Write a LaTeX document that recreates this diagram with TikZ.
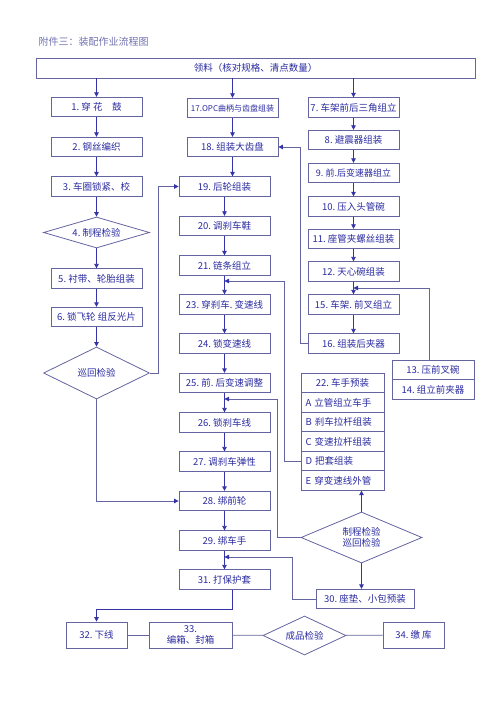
\documentclass[tikz,border=0pt]{standalone}
\usepackage{fontspec}
\newfontfamily\cjk{Noto Sans CJK SC}
\usetikzlibrary{arrows.meta,shapes.geometric}
\definecolor{boxline}{HTML}{6464A0}
\definecolor{flowtext}{HTML}{2A2AA0}
\definecolor{flowarrow}{HTML}{3434A8}
\definecolor{titletext}{HTML}{7070B0}

\begin{document}
\begin{tikzpicture}[x=1pt,y=-1pt,
  proc/.style={draw=boxline,line width=0.8pt,minimum width=91pt,minimum height=19.5pt,inner sep=0pt,text=flowtext,font=\cjk\fontsize{9.5}{11}\selectfont},
  row/.style={proc,minimum width=83pt,text width=74pt,align=left},
  check/.style={draw=boxline,line width=0.8pt,diamond,aspect=3,inner sep=0pt,text=flowtext,font=\cjk\fontsize{9.5}{11}\selectfont},
  flow/.style={flowarrow,line width=0.8pt,-{Triangle[length=4.5pt,width=4.5pt]}},
  back/.style={boxline,line width=0.8pt,-{Triangle[length=4.5pt,width=4.5pt,color=flowarrow]}},
  link/.style={boxline,line width=0.8pt}]
  \useasboundingbox (0,0) rectangle (500,708);

  % title and material box
  \node[anchor=west,text=titletext,font=\cjk\fontsize{10}{12}\selectfont] (title) at (35,42) {附件三：装配作业流程图};
  \node[proc,minimum width=439pt,minimum height=20pt] (top) at (255.5,68) {领料（核对规格、清点数量）};

  % wheel line
  \node[proc] (n1) at (96.5,107) {1.\ 穿\ 花\quad 鼓};
  \node[proc] (n2) at (96.5,147) {2.\ 钢丝编织};
  \node[proc] (n3) at (96.5,186.5) {3.\ 车圈锁紧、校};
  \node[check,minimum width=106pt,minimum height=31pt] (chk1) at (96.5,232.5) {4.\ 制程检验};
  \node[proc] (n5) at (96.5,278.5) {5.\ 衬带、轮胎组装};
  \node[proc] (n6) at (96.5,317) {6.\ 锁飞轮\ 组反光片};
  \node[check,minimum width=106pt,minimum height=52pt] (chk2) at (96.5,373) {巡回检验};

  % assembly line
  \node[proc,font=\cjk\fontsize{8}{10}\selectfont] (n17) at (232.5,108) {17.OPC曲柄与齿盘组装};
  \node[proc] (n18) at (232.5,147) {18.\ 组装大齿盘};
  \node[proc] (n19) at (224.5,186.5) {19.\ 后轮组装};
  \node[proc] (n20) at (224.5,226) {20.\ 调刹车鞋};
  \node[proc] (n21) at (224.5,265.5) {21.\ 链条组立};
  \node[proc] (n23) at (224.5,304.5) {23.\ 穿刹车.\ 变速线};
  \node[proc] (n24) at (224.5,343.5) {24.\ 锁变速线};
  \node[proc] (n25) at (224.5,383) {25.\ 前.\ 后变速调整};
  \node[proc] (n26) at (224.5,422.5) {26.\ 锁刹车线};
  \node[proc] (n27) at (224.5,461.5) {27.\ 调刹车弹性};
  \node[proc] (n28) at (224.5,501) {28.\ 绑前轮};
  \node[proc] (n29) at (224.5,540.5) {29.\ 绑车手};
  \node[proc] (n31) at (224.5,579.5) {31.\ 打保护套};

  % frame line
  \node[proc] (n7) at (353.5,107.5) {7.\ 车架前后三角组立};
  \node[proc] (n8) at (353.5,140) {8.\ 避震器组装};
  \node[proc,font=\cjk\fontsize{9}{11}\selectfont] (n9) at (353.5,173) {9.\ 前.后变速器组立};
  \node[proc] (n10) at (353.5,206.5) {10.\ 压入头管碗};
  \node[proc] (n11) at (353.5,239) {11.\ 座管夹螺丝组装};
  \node[proc] (n12) at (353.5,271.5) {12.\ 天心碗组装};
  \node[proc] (n15) at (353.5,304.5) {15.\ 车架.\ 前叉组立};
  \node[proc] (n16) at (353.5,343.5) {16.\ 组装后夹器};
  \node[proc,minimum width=82pt] (n13) at (433,370) {13.\ 压前叉碗};
  \node[proc,minimum width=82pt] (n14) at (433,389.5) {14.\ 组立前夹器};

  % handlebar pre-assembly
  \node[proc,minimum width=83pt] (g22) at (342.5,383) {22.\ 车手预装};
  \node[row] (rA) at (342.5,402.5) {A 立管组立车手};
  \node[row] (rB) at (342.5,422) {B 刹车拉杆组装};
  \node[row] (rC) at (342.5,441.5) {C 变速拉杆组装};
  \node[row] (rD) at (342.5,461) {D 把套组装};
  \node[row] (rE) at (342.5,480.5) {E 穿变速线外管};
  \node[check,aspect=2.4,minimum width=121pt,minimum height=51pt,align=center] (chk3) at (361.5,537.5) {制程检验\\巡回检验};
  \node[proc,minimum width=98pt] (n30) at (365,599) {30.\ 座垫、小包预装};

  % packing
  \node[proc,minimum width=61pt,minimum height=26pt] (n32) at (96.5,635) {32.\ 下线};
  \node[proc,minimum width=83pt,minimum height=26pt,align=center] (n33) at (190.5,635) {33.\\编箱、封箱};
  \node[check,aspect=2,minimum width=83pt,minimum height=39pt] (chk4) at (304.5,635.5) {成品检验};
  \node[proc,minimum width=61pt,minimum height=26pt] (n34) at (413.5,635) {34.\ 缴\ 库};

  % joins
  \coordinate (j15) at (353.5,288);
  \coordinate (j23) at (224.5,281);
  \coordinate (j26) at (224.5,399);
  \coordinate (j31) at (224.5,557);

  % straight flow
  \draw[flow] (n1.north |- top.south) -- (n1);
  \draw[flow] (n17.north |- top.south) -- (n17);
  \draw[flow] (n7.north |- top.south) -- (n7);
  \draw[flow] (n1) -- (n2);
  \draw[flow] (n2) -- (n3);
  \draw[flow] (n3) -- (chk1);
  \draw[flow] (chk1) -- (n5);
  \draw[flow] (n5) -- (n6);
  \draw[flow] (n6) -- (chk2);
  \draw[flow] (n17) -- (n18);
  \draw[flow] (n18.south) -- (n18.south |- n19.north);
  \draw[flow] (n19) -- (n20);
  \draw[flow] (n20) -- (n21);
  \draw[flow] (n21) -- (n23);
  \draw[flow] (n23) -- (n24);
  \draw[flow] (n24) -- (n25);
  \draw[flow] (n25) -- (n26);
  \draw[flow] (n26) -- (n27);
  \draw[flow] (n27) -- (n28);
  \draw[flow] (n28) -- (n29);
  \draw[flow] (n29) -- (n31);
  \draw[flow] (n7) -- (n8);
  \draw[flow] (n8) -- (n9);
  \draw[flow] (n9) -- (n10);
  \draw[flow] (n10) -- (n11);
  \draw[flow] (n11) -- (n12);
  \draw[flow] (n12) -- (n15);
  \draw[flow] (n15) -- (n16);
  \draw[flow] (chk3.north) -- (chk3.north |- rE.south);
  \draw[flow] (chk3.south) -- (chk3.south |- n30.north);

  % feed-ins
  \draw[back] (chk2.east) -- ++(8,0) |- (n19.west);
  \draw[back] (chk2.south) |- (n28.west);
  \draw[back] (n16.west) -- ++(-7,0) |- (n18.east);
  \draw[back] ([xshift=-4pt]n13.north) |- (j15);
  \draw[back] (rD.west) -- ++(-16,0) |- (j23);
  \draw[back] (chk3.west) -- ++(-23,0) |- (j26);
  \draw[back] (n30.west) -- ++(-23,0) |- (j31);
  \draw[flow] ([xshift=8pt]n31.south) -- ++(0,20) -| (n32.north);

  % packing links
  \draw[link] (n32) -- (n33);
  \draw[link] (n33) -- (chk4);
  \draw[link] (chk4) -- (n34);
\end{tikzpicture}
\end{document}
